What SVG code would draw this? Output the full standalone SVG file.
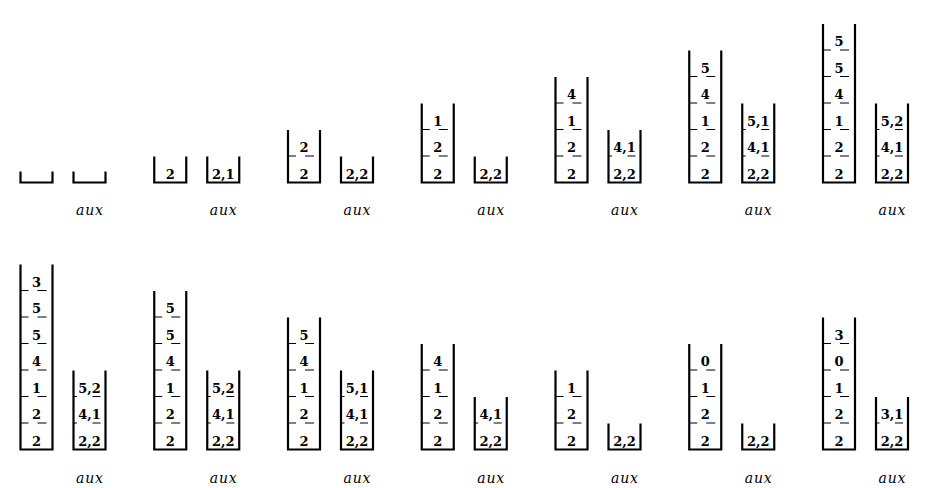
<svg xmlns="http://www.w3.org/2000/svg" width="931" height="488" viewBox="0 0 931 488">
<style>
.w{fill:none;stroke:#000;stroke-width:2.2;stroke-linejoin:miter;stroke-linecap:square}
.d{fill:none;stroke:#000;stroke-width:1.2}
.n{font-family:"DejaVu Serif","Liberation Serif",serif;font-weight:bold;font-size:13px;text-anchor:middle;fill:#000}
.l{font-family:"DejaVu Serif","Liberation Serif",serif;font-style:italic;font-size:14px;letter-spacing:0.8px;text-anchor:middle;fill:#000}
</style>
<rect width="931" height="488" fill="#fff"/>
<!-- Row 1 -->
<g id="r1c1-main" transform="translate(36.5,0)"><path class="w" d="M-16,172.5V182.5H16V172.5"/></g>
<g id="r1c1-aux" transform="translate(89.5,0)"><path class="w" d="M-16,172.5V182.5H16V172.5"/><text class="l" x="0.4" y="215">aux</text></g>

<g id="r1c2-main" transform="translate(170.25,0)"><path class="w" d="M-16,157.5V182.5H16V157.5"/><text class="n" x="0" y="178.5">2</text></g>
<g id="r1c2-aux" transform="translate(223.25,0)"><path class="w" d="M-16,157.5V182.5H16V157.5"/><text class="n" x="0" y="178.5">2,1</text><text class="l" x="0.4" y="215">aux</text></g>

<g id="r1c3-main" transform="translate(304,0)"><path class="w" d="M-16,131V182.5H16V131"/><path class="d" d="M-16,156h8M1,156h9"/><text class="n" x="0" y="178.5">2</text><text class="n" x="0" y="152">2</text></g>
<g id="r1c3-aux" transform="translate(357,0)"><path class="w" d="M-16,157.5V182.5H16V157.5"/><text class="n" x="0" y="178.5">2,2</text><text class="l" x="0.4" y="215">aux</text></g>

<g id="r1c4-main" transform="translate(437.75,0)"><path class="w" d="M-16,104.5V182.5H16V104.5"/><path class="d" d="M-16,156h8M1,156h9M-16,129.5h8M1,129.5h9"/><text class="n" x="0" y="178.5">2</text><text class="n" x="0" y="152">2</text><text class="n" x="0" y="125.5">1</text></g>
<g id="r1c4-aux" transform="translate(490.75,0)"><path class="w" d="M-16,157.5V182.5H16V157.5"/><text class="n" x="0" y="178.5">2,2</text><text class="l" x="0.4" y="215">aux</text></g>

<g id="r1c5-main" transform="translate(571.5,0)"><path class="w" d="M-16,78V182.5H16V78"/><path class="d" d="M-16,156h8M1,156h9M-16,129.5h8M1,129.5h9M-16,103h8M1,103h9"/><text class="n" x="0" y="178.5">2</text><text class="n" x="0" y="152">2</text><text class="n" x="0" y="125.5">1</text><text class="n" x="0" y="99">4</text></g>
<g id="r1c5-aux" transform="translate(624.5,0)"><path class="w" d="M-16,131V182.5H16V131"/><path class="d" d="M-16,156h3.5M3,156h8"/><text class="n" x="0" y="178.5">2,2</text><text class="n" x="0" y="152">4,1</text><text class="l" x="0.4" y="215">aux</text></g>

<g id="r1c6-main" transform="translate(705.25,0)"><path class="w" d="M-16,51.5V182.5H16V51.5"/><path class="d" d="M-16,156h8M1,156h9M-16,129.5h8M1,129.5h9M-16,103h8M1,103h9M-16,76.5h8M1,76.5h9"/><text class="n" x="0" y="178.5">2</text><text class="n" x="0" y="152">2</text><text class="n" x="0" y="125.5">1</text><text class="n" x="0" y="99">4</text><text class="n" x="0" y="72.5">5</text></g>
<g id="r1c6-aux" transform="translate(758.25,0)"><path class="w" d="M-16,104.5V182.5H16V104.5"/><path class="d" d="M-16,156h3.5M3,156h8M-16,129.5h3.5M3,129.5h8"/><text class="n" x="0" y="178.5">2,2</text><text class="n" x="0" y="152">4,1</text><text class="n" x="0" y="125.5">5,1</text><text class="l" x="0.4" y="215">aux</text></g>

<g id="r1c7-main" transform="translate(839,0)"><path class="w" d="M-16,25V182.5H16V25"/><path class="d" d="M-16,156h8M1,156h9M-16,129.5h8M1,129.5h9M-16,103h8M1,103h9M-16,76.5h8M1,76.5h9M-16,50h8M1,50h9"/><text class="n" x="0" y="178.5">2</text><text class="n" x="0" y="152">2</text><text class="n" x="0" y="125.5">1</text><text class="n" x="0" y="99">4</text><text class="n" x="0" y="72.5">5</text><text class="n" x="0" y="46">5</text></g>
<g id="r1c7-aux" transform="translate(892,0)"><path class="w" d="M-16,104.5V182.5H16V104.5"/><path class="d" d="M-16,156h3.5M3,156h8M-16,129.5h3.5M3,129.5h8"/><text class="n" x="0" y="178.5">2,2</text><text class="n" x="0" y="152">4,1</text><text class="n" x="0" y="125.5">5,2</text><text class="l" x="0.4" y="215">aux</text></g>

<!-- Row 2 -->
<g id="r2c1-main" transform="translate(36.5,0)"><path class="w" d="M-16,265.5V449.5H16V265.5"/><path class="d" d="M-16,423h8M1,423h9M-16,396.5h8M1,396.5h9M-16,370h8M1,370h9M-16,343.5h8M1,343.5h9M-16,317h8M1,317h9M-16,290.5h8M1,290.5h9"/><text class="n" x="0" y="445.5">2</text><text class="n" x="0" y="419">2</text><text class="n" x="0" y="392.5">1</text><text class="n" x="0" y="366">4</text><text class="n" x="0" y="339.5">5</text><text class="n" x="0" y="313">5</text><text class="n" x="0" y="286.5">3</text></g>
<g id="r2c1-aux" transform="translate(89.5,0)"><path class="w" d="M-16,371.5V449.5H16V371.5"/><path class="d" d="M-16,423h3.5M3,423h8M-16,396.5h3.5M3,396.5h8"/><text class="n" x="0" y="445.5">2,2</text><text class="n" x="0" y="419">4,1</text><text class="n" x="0" y="392.5">5,2</text><text class="l" x="0.4" y="483">aux</text></g>

<g id="r2c2-main" transform="translate(170.25,0)"><path class="w" d="M-16,292V449.5H16V292"/><path class="d" d="M-16,423h8M1,423h9M-16,396.5h8M1,396.5h9M-16,370h8M1,370h9M-16,343.5h8M1,343.5h9M-16,317h8M1,317h9"/><text class="n" x="0" y="445.5">2</text><text class="n" x="0" y="419">2</text><text class="n" x="0" y="392.5">1</text><text class="n" x="0" y="366">4</text><text class="n" x="0" y="339.5">5</text><text class="n" x="0" y="313">5</text></g>
<g id="r2c2-aux" transform="translate(223.25,0)"><path class="w" d="M-16,371.5V449.5H16V371.5"/><path class="d" d="M-16,423h3.5M3,423h8M-16,396.5h3.5M3,396.5h8"/><text class="n" x="0" y="445.5">2,2</text><text class="n" x="0" y="419">4,1</text><text class="n" x="0" y="392.5">5,2</text><text class="l" x="0.4" y="483">aux</text></g>

<g id="r2c3-main" transform="translate(304,0)"><path class="w" d="M-16,318.5V449.5H16V318.5"/><path class="d" d="M-16,423h8M1,423h9M-16,396.5h8M1,396.5h9M-16,370h8M1,370h9M-16,343.5h8M1,343.5h9"/><text class="n" x="0" y="445.5">2</text><text class="n" x="0" y="419">2</text><text class="n" x="0" y="392.5">1</text><text class="n" x="0" y="366">4</text><text class="n" x="0" y="339.5">5</text></g>
<g id="r2c3-aux" transform="translate(357,0)"><path class="w" d="M-16,371.5V449.5H16V371.5"/><path class="d" d="M-16,423h3.5M3,423h8M-16,396.5h3.5M3,396.5h8"/><text class="n" x="0" y="445.5">2,2</text><text class="n" x="0" y="419">4,1</text><text class="n" x="0" y="392.5">5,1</text><text class="l" x="0.4" y="483">aux</text></g>

<g id="r2c4-main" transform="translate(437.75,0)"><path class="w" d="M-16,345V449.5H16V345"/><path class="d" d="M-16,423h8M1,423h9M-16,396.5h8M1,396.5h9M-16,370h8M1,370h9"/><text class="n" x="0" y="445.5">2</text><text class="n" x="0" y="419">2</text><text class="n" x="0" y="392.5">1</text><text class="n" x="0" y="366">4</text></g>
<g id="r2c4-aux" transform="translate(490.75,0)"><path class="w" d="M-16,398V449.5H16V398"/><path class="d" d="M-16,423h3.5M3,423h8"/><text class="n" x="0" y="445.5">2,2</text><text class="n" x="0" y="419">4,1</text><text class="l" x="0.4" y="483">aux</text></g>

<g id="r2c5-main" transform="translate(571.5,0)"><path class="w" d="M-16,371.5V449.5H16V371.5"/><path class="d" d="M-16,423h8M1,423h9M-16,396.5h8M1,396.5h9"/><text class="n" x="0" y="445.5">2</text><text class="n" x="0" y="419">2</text><text class="n" x="0" y="392.5">1</text></g>
<g id="r2c5-aux" transform="translate(624.5,0)"><path class="w" d="M-16,424.5V449.5H16V424.5"/><text class="n" x="0" y="445.5">2,2</text><text class="l" x="0.4" y="483">aux</text></g>

<g id="r2c6-main" transform="translate(705.25,0)"><path class="w" d="M-16,345V449.5H16V345"/><path class="d" d="M-16,423h8M1,423h9M-16,396.5h8M1,396.5h9M-16,370h8M1,370h9"/><text class="n" x="0" y="445.5">2</text><text class="n" x="0" y="419">2</text><text class="n" x="0" y="392.5">1</text><text class="n" x="0" y="366">0</text></g>
<g id="r2c6-aux" transform="translate(758.25,0)"><path class="w" d="M-16,424.5V449.5H16V424.5"/><text class="n" x="0" y="445.5">2,2</text><text class="l" x="0.4" y="483">aux</text></g>

<g id="r2c7-main" transform="translate(839,0)"><path class="w" d="M-16,318.5V449.5H16V318.5"/><path class="d" d="M-16,423h8M1,423h9M-16,396.5h8M1,396.5h9M-16,370h8M1,370h9M-16,343.5h8M1,343.5h9"/><text class="n" x="0" y="445.5">2</text><text class="n" x="0" y="419">2</text><text class="n" x="0" y="392.5">1</text><text class="n" x="0" y="366">0</text><text class="n" x="0" y="339.5">3</text></g>
<g id="r2c7-aux" transform="translate(892,0)"><path class="w" d="M-16,398V449.5H16V398"/><path class="d" d="M-16,423h3.5M3,423h8"/><text class="n" x="0" y="445.5">2,2</text><text class="n" x="0" y="419">3,1</text><text class="l" x="0.4" y="483">aux</text></g>
<g id="connectors"/>
</svg>
